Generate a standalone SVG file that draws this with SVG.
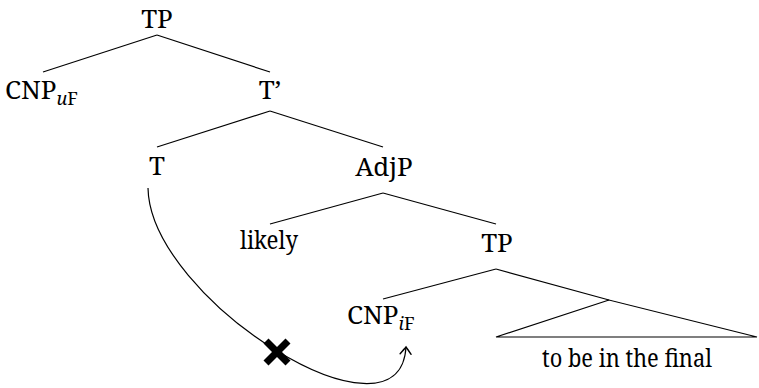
<svg xmlns="http://www.w3.org/2000/svg" width="759" height="388" viewBox="0 0 759 388">
<style>
text{font-family:"Noto Serif","DejaVu Serif","Liberation Serif",serif;font-size:26px;fill:#000}
.s{font-size:18px}
.i{font-style:italic}
.e{stroke:#000;stroke-width:1.2;fill:none}
</style>
<defs>
<marker id="arr" markerWidth="14" markerHeight="14" refX="0" refY="0" viewBox="-8 -7 10 14" orient="auto" markerUnits="userSpaceOnUse">
<path d="M-7,-5.5 Q-2,-1.5 0,0 Q-2,1.5 -7,5.5" stroke="#000" stroke-width="1.4" fill="none" stroke-linecap="round"/>
</marker>
</defs>
<rect width="759" height="388" fill="#fff"/>
<g id="connectors">
<line class="e" x1="157" y1="35" x2="43" y2="72"/>
<line class="e" x1="157" y1="35" x2="270" y2="72"/>
<line class="e" x1="270" y1="111" x2="157" y2="147"/>
<line class="e" x1="270" y1="111" x2="383" y2="147"/>
<line class="e" x1="383" y1="193" x2="270" y2="224"/>
<line class="e" x1="383" y1="193" x2="496" y2="224"/>
<line class="e" x1="496" y1="269" x2="383" y2="299"/>
<line class="e" x1="496" y1="269" x2="609" y2="300"/>
<path class="e" d="M609,300 L496,337 L757,337 Z"/>
<path class="e" d="M148,188 C150,300 400,455 406,347" stroke-width="1.8" marker-end="url(#arr)"/>
<g id="blocked">
<line x1="266" y1="341" x2="288" y2="363" stroke="#000" stroke-width="7"/>
<line x1="288" y1="341" x2="266" y2="363" stroke="#000" stroke-width="7"/>
</g>
</g>
<g id="tp-top"><text x="157" y="28" text-anchor="middle">TP</text></g>
<g id="cnp-uf"><text x="5" y="99">CNP<tspan class="s i" dy="6">u</tspan><tspan class="s">F</tspan></text></g>
<g id="tbar"><text x="270" y="99" text-anchor="middle">T’</text></g>
<g id="t"><text x="157" y="175" text-anchor="middle">T</text></g>
<g id="adjp"><text x="384" y="176" text-anchor="middle">AdjP</text></g>
<g id="likely"><text x="269" y="249" text-anchor="middle" textLength="58" lengthAdjust="spacingAndGlyphs">likely</text></g>
<g id="tp-low"><text x="497" y="252" text-anchor="middle">TP</text></g>
<g id="cnp-if"><text x="347" y="324">CNP<tspan class="s i" dy="6">i</tspan><tspan class="s">F</tspan></text></g>
<g id="triangle-text"><text x="627" y="367" text-anchor="middle" textLength="170" lengthAdjust="spacingAndGlyphs">to be in the final</text></g>
</svg>
